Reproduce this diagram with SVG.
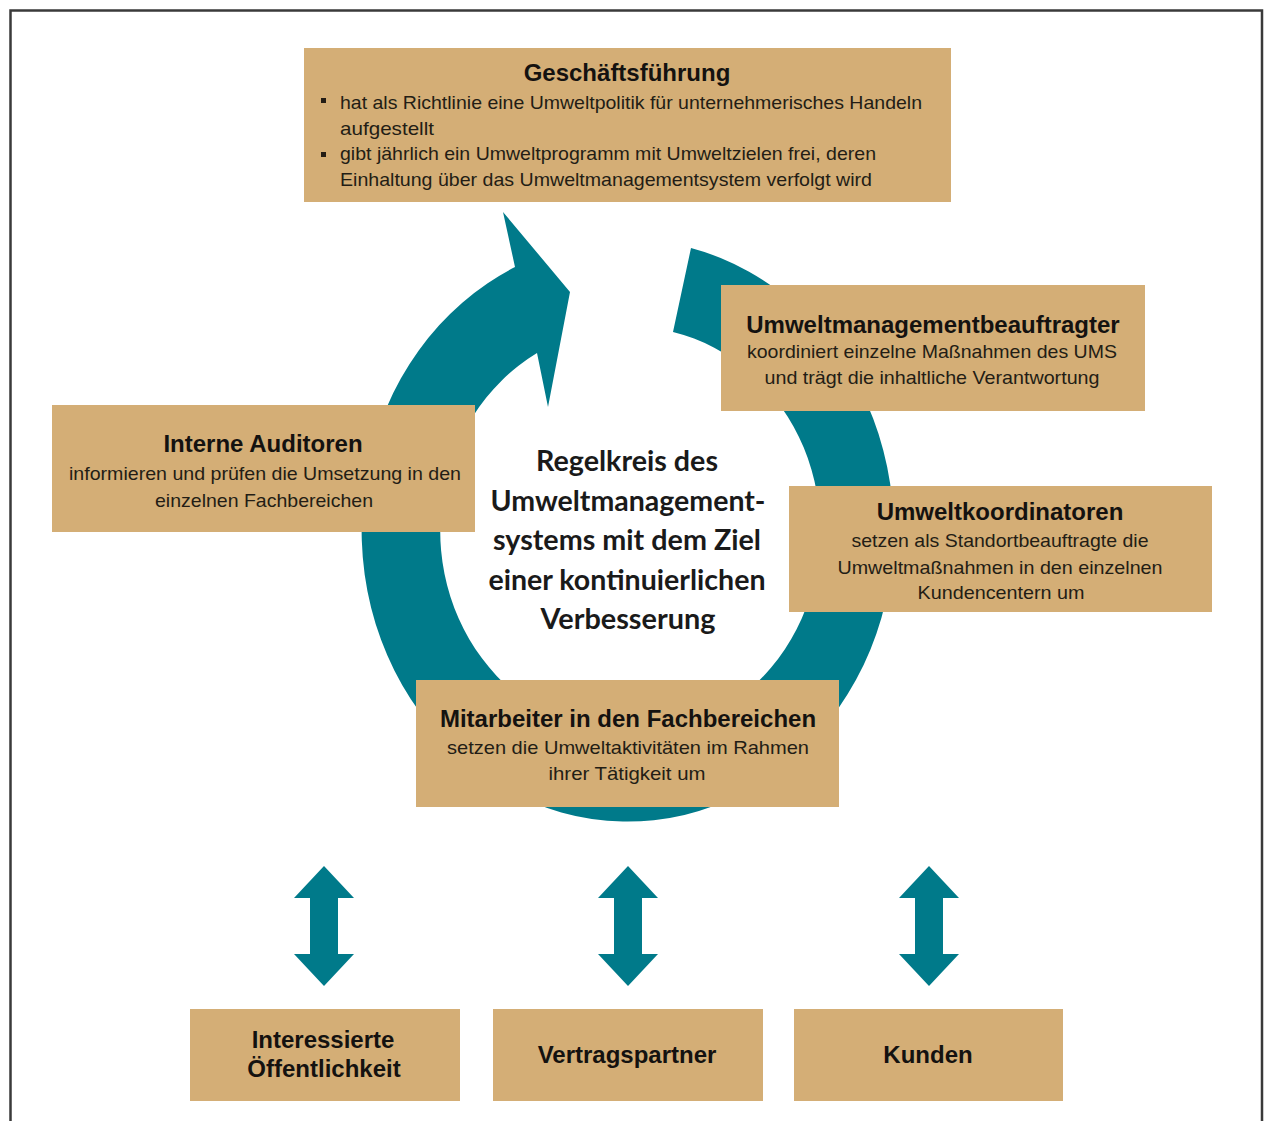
<svg xmlns="http://www.w3.org/2000/svg" width="1265" height="1121" viewBox="0 0 1265 1121">
<style>
.box{fill:#D4AE76}
.t{font-family:"Liberation Sans",Arial,sans-serif;font-weight:bold;font-size:24px;fill:#141210;text-anchor:middle}
.b{font-family:"Liberation Sans",Arial,sans-serif;font-size:19px;fill:#231d15;text-anchor:middle}
.bl{font-family:"Liberation Sans",Arial,sans-serif;font-size:19px;fill:#231d15;text-anchor:start}
.c{font-family:Lato,"Liberation Sans",sans-serif;font-weight:bold;font-size:28px;fill:#1a1a1a;text-anchor:middle}
.arrow{fill:#007A8A}
.bullet{fill:#231d15}
</style>
<rect width="1265" height="1121" fill="#ffffff"/>
<path d="M10.5 1121 V10.5 H1262 V1121" fill="none" stroke="#3a3a3a" stroke-width="2.5"/>

<g id="connectors">
  <path class="arrow" d="M691 248 A266 291 0 1 1 515 267 L503 212 L570 292 L548 407 L537 353 A190 204 0 1 0 673 332 Z"/>
  <path class="arrow" d="M324 866 L354 898 L338 898 L338 954 L354 954 L324 986 L294 954 L310 954 L310 898 L294 898 Z"/>
  <path class="arrow" d="M628 866 L658 898 L642 898 L642 954 L658 954 L628 986 L598 954 L614 954 L614 898 L598 898 Z"/>
  <path class="arrow" d="M929 866 L959 898 L943 898 L943 954 L959 954 L929 986 L899 954 L915 954 L915 898 L899 898 Z"/>
</g>

<g id="center-label">
  <text class="c" x="627" y="471" textLength="182" lengthAdjust="spacingAndGlyphs">Regelkreis des</text>
  <text class="c" x="628" y="511" textLength="275" lengthAdjust="spacingAndGlyphs">Umweltmanagement-</text>
  <text class="c" x="627" y="550" textLength="268" lengthAdjust="spacingAndGlyphs">systems mit dem Ziel</text>
  <text class="c" x="627" y="590" textLength="277" lengthAdjust="spacingAndGlyphs">einer kontinuierlichen</text>
  <text class="c" x="628" y="629" textLength="175" lengthAdjust="spacingAndGlyphs">Verbesserung</text>
</g>

<g id="geschaeftsfuehrung">
  <rect class="box" x="304" y="48" width="647" height="154"/>
  <text class="t" x="627" y="81">Geschäftsführung</text>
  <rect class="bullet" x="321" y="98" width="5" height="5"/>
  <text class="bl" x="340" y="109" textLength="582" lengthAdjust="spacingAndGlyphs">hat als Richtlinie eine Umweltpolitik für unternehmerisches Handeln</text>
  <text class="bl" x="340" y="135" textLength="94" lengthAdjust="spacingAndGlyphs">aufgestellt</text>
  <rect class="bullet" x="321" y="152" width="5" height="5"/>
  <text class="bl" x="340" y="160" textLength="536" lengthAdjust="spacingAndGlyphs">gibt jährlich ein Umweltprogramm mit Umweltzielen frei, deren</text>
  <text class="bl" x="340" y="186" textLength="532" lengthAdjust="spacingAndGlyphs">Einhaltung über das Umweltmanagementsystem verfolgt wird</text>
</g>

<g id="umweltmanagementbeauftragter">
  <rect class="box" x="721" y="285" width="424" height="126"/>
  <text class="t" x="933" y="333">Umweltmanagementbeauftragter</text>
  <text class="b" x="932" y="358" textLength="370" lengthAdjust="spacingAndGlyphs">koordiniert einzelne Maßnahmen des UMS</text>
  <text class="b" x="932" y="384" textLength="335" lengthAdjust="spacingAndGlyphs">und trägt die inhaltliche Verantwortung</text>
</g>

<g id="interne-auditoren">
  <rect class="box" x="52" y="405" width="423" height="127"/>
  <text class="t" x="263" y="452">Interne Auditoren</text>
  <text class="b" x="265" y="480" textLength="392" lengthAdjust="spacingAndGlyphs">informieren und prüfen die Umsetzung in den</text>
  <text class="b" x="264" y="507" textLength="218" lengthAdjust="spacingAndGlyphs">einzelnen Fachbereichen</text>
</g>

<g id="umweltkoordinatoren">
  <rect class="box" x="789" y="486" width="423" height="126"/>
  <text class="t" x="1000" y="520">Umweltkoordinatoren</text>
  <text class="b" x="1000" y="547" textLength="297" lengthAdjust="spacingAndGlyphs">setzen als Standortbeauftragte die</text>
  <text class="b" x="1000" y="574" textLength="325" lengthAdjust="spacingAndGlyphs">Umweltmaßnahmen in den einzelnen</text>
  <text class="b" x="1001" y="599" textLength="167" lengthAdjust="spacingAndGlyphs">Kundencentern um</text>
</g>

<g id="mitarbeiter">
  <rect class="box" x="416" y="680" width="423" height="127"/>
  <text class="t" x="628" y="727">Mitarbeiter in den Fachbereichen</text>
  <text class="b" x="628" y="754" textLength="362" lengthAdjust="spacingAndGlyphs">setzen die Umweltaktivitäten im Rahmen</text>
  <text class="b" x="627" y="780" textLength="157" lengthAdjust="spacingAndGlyphs">ihrer Tätigkeit um</text>
</g>

<g id="interessierte-oeffentlichkeit">
  <rect class="box" x="190" y="1009" width="270" height="92"/>
  <text class="t" x="323" y="1048">Interessierte</text>
  <text class="t" x="324" y="1077">Öffentlichkeit</text>
</g>

<g id="vertragspartner">
  <rect class="box" x="493" y="1009" width="270" height="92"/>
  <text class="t" x="627" y="1063">Vertragspartner</text>
</g>

<g id="kunden">
  <rect class="box" x="794" y="1009" width="269" height="92"/>
  <text class="t" x="928" y="1063">Kunden</text>
</g>
</svg>
